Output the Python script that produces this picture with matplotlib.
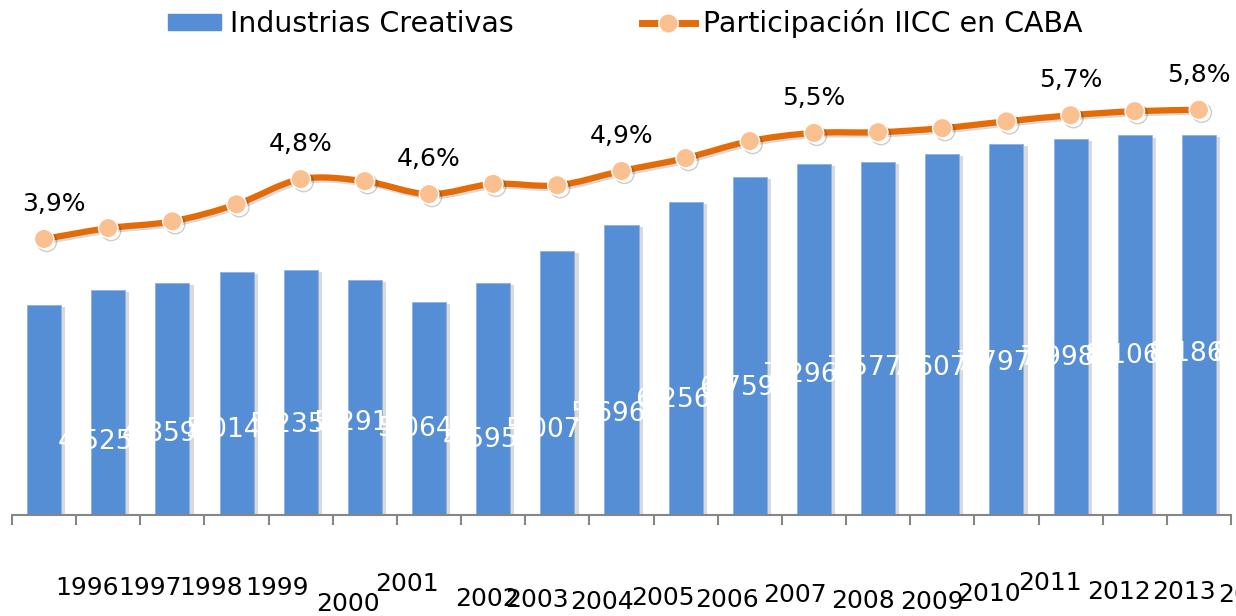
import matplotlib
matplotlib.use("Agg")
import matplotlib.pyplot as plt
import matplotlib.patheffects as pe
from matplotlib.path import Path
from matplotlib.patches import PathPatch, Patch
from matplotlib.lines import Line2D

plt.rcParams['font.family'] = ['DejaVu Sans']

# --- datos ---
years = ['1996', '1997', '1998', '1999', '2000', '2001', '2002', '2003', '2004', '2005',
         '2006', '2007', '2008', '2009', '2010', '2011', '2012', '2013', '2014']
industrias = [4525, 4859, 5014, 5235, 5291, 5064, 4595, 5007, 5696, 6256,
              6759, 7296, 7577, 7607, 7797, 7998, 8106, 8186, 8190]
participacion = [3.90, 4.06, 4.16, 4.41, 4.78, 4.75, 4.56, 4.71, 4.69, 4.90,
                 5.09, 5.34, 5.46, 5.47, 5.53, 5.63, 5.72, 5.78, 5.80]
pct_labelled = [0, 4, 6, 9, 12, 16, 18]

# --- posiciones (desplazadas como en el original) ---
year_dx = [43, 42, 39, 40, 47, 42, 58, 44, 45, 41, 41, 45, 49, 54, 47, 43, 48, 49, 51]
year_y = [588, 588, 588, 588, 604, 584, 599, 600, 602, 598, 600, 595, 601, 602, 594, 583, 592, 592, 595]

BLUE = '#558ED5'
ORANGE = '#E36C09'
PEACH = '#FAC090'

fig = plt.figure(figsize=(12.36, 6.16), dpi=100)
ax = fig.add_axes([12 / 1236, 101 / 616, 1219 / 1236, (515 - 51.4) / 616])
ax2 = ax.twinx()

x = list(range(len(years)))

shadow = [pe.SimplePatchShadow(offset=(3, -1.5), shadow_rgbFace='black', alpha=0.15), pe.Normal()]
bars = ax.bar(x, industrias, width=0.53, color=BLUE, edgecolor='#8DB3E2', linewidth=0.6, zorder=2)
for b in bars:
    b.set_path_effects(shadow)

ax.set_xlim(-0.5, len(years) - 0.5)
ax.set_ylim(0, 10000)
ax2.set_ylim(-0.159, 6.659)

for a in (ax, ax2):
    for s in ('top', 'right', 'left'):
        a.spines[s].set_visible(False)
    a.set_yticks([])
ax2.spines['bottom'].set_visible(False)
ax.spines['bottom'].set_color('#868686')
ax.spines['bottom'].set_linewidth(1.5)
ax.set_xticks([i - 0.5 for i in range(len(years) + 1)])
ax.set_xticklabels([])
ax.tick_params(axis='x', length=7, width=1.5, color='#868686', direction='out')

# etiquetas de barras (blancas)
for i, v in enumerate(industrias):
    ax.annotate(f"{v:,}".replace(",", "."), xy=(i, 0.52 * v - 776), xytext=(51, 0),
                textcoords='offset pixels', ha='center', va='center',
                color='white', fontsize=19, annotation_clip=False, zorder=3)

# etiquetas de años
for i, yr in enumerate(years):
    ax.annotate(yr, xy=(i, 0), xycoords=('data', 'axes fraction'),
                xytext=(year_dx[i], 515 - year_y[i]), textcoords='offset pixels',
                ha='center', va='center', fontsize=18, color='black',
                annotation_clip=False)

# línea suavizada
pts = list(zip(x, participacion))
verts = [pts[0]]
codes = [Path.MOVETO]
for i in range(len(pts) - 1):
    p0 = pts[i - 1] if i > 0 else pts[i]
    p1 = pts[i]
    p2 = pts[i + 1]
    p3 = pts[i + 2] if i + 2 < len(pts) else pts[i + 1]
    c1 = (p1[0] + (p2[0] - p0[0]) / 6, p1[1] + (p2[1] - p0[1]) / 6)
    c2 = (p2[0] - (p3[0] - p1[0]) / 6, p2[1] - (p3[1] - p1[1]) / 6)
    verts += [c1, c2, p2]
    codes += [Path.CURVE4] * 3
line_shadow = [pe.SimpleLineShadow(offset=(1.5, -1.5), shadow_color='black', alpha=0.15), pe.Normal()]
ax2.add_patch(PathPatch(Path(verts, codes), facecolor='none', edgecolor=ORANGE,
                        linewidth=4.5, capstyle='round', path_effects=line_shadow, zorder=3))
ax2.plot(x, participacion, linestyle='none', marker='o', ms=14, mfc=PEACH, mec='white',
         mew=1.0, zorder=4,
         path_effects=[pe.SimpleLineShadow(offset=(2, -2), shadow_color='black', alpha=0.2), pe.Normal()])

for i in pct_labelled:
    dx = 10 if i == 0 else 0
    ax2.annotate(f"{participacion[i]:.1f}%".replace(".", ","), xy=(i, participacion[i]),
                 xytext=(dx, 35), textcoords='offset pixels', ha='center', va='center',
                 fontsize=18, color='black', annotation_clip=False)

handles = [Patch(facecolor=BLUE, edgecolor=BLUE),
           Line2D([], [], color=ORANGE, lw=5, marker='o', ms=14, mfc=PEACH, mec='white')]
fig.legend(handles, ['Industrias Creativas', 'Participación IICC en CABA'],
           loc='center', bbox_to_anchor=(0.506, 0.962), ncol=2, frameon=False,
           fontsize=20.5, handlelength=1.86, handleheight=0.5, handletextpad=0.3,
           columnspacing=4.5)

fig.savefig('out.png', dpi=100)
